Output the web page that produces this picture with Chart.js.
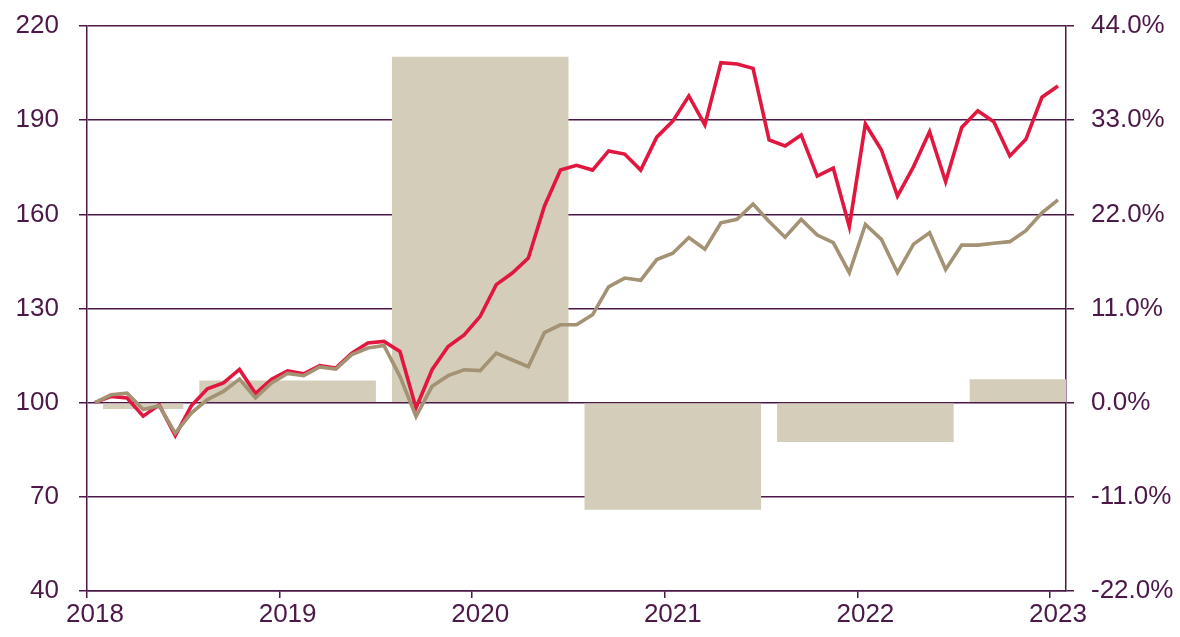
<!DOCTYPE html>
<html>
<head>
<meta charset="utf-8">
<script src="https://cdn.jsdelivr.net/npm/chart.js@4/dist/chart.umd.min.js"></script>
<style>
  html, body { margin: 0; padding: 0; background: #ffffff; }
  #wrap { width: 1180px; height: 637px; position: relative; }
</style>
</head>
<body>
<div id="wrap"><canvas id="c"></canvas></div>
<script>
// ---- data ----
const years = ['2018', '2019', '2020', '2021', '2022', '2023'];
const monthCount = 61; // Jan 2018 .. Jan 2023
const months = [];
for (const y of years) {
  for (let m = 1; m <= 12 && months.length < monthCount; m++) {
    months.push(y + '-' + String(m).padStart(2, '0'));
  }
}

// index series (monthly)
const fundIndex = [100.0, 102.0, 101.5, 95.7, 99.3, 89.5, 99.0, 104.4, 106.3, 110.6, 102.9, 107.5,
  110.1, 109.2, 111.8, 111.0, 115.8, 119.0, 119.5, 116.3, 98.3, 110.5, 117.9, 121.6,
  127.5, 137.6, 141.3, 146.1, 162.6, 174.1, 175.6, 174.1, 180.2, 179.2, 174.1, 184.6,
  189.7, 197.7, 188.5, 208.3, 207.9, 206.5, 183.7, 181.8, 185.3, 172.2, 174.7, 156.1,
  188.8, 180.5, 165.8, 175.2, 186.3, 170.4, 187.7, 193.0, 189.5, 178.6, 183.9, 197.3,
  200.9];
const benchIndex = [100.0, 102.5, 103.0, 97.8, 99.0, 90.3, 96.7, 101.0, 103.6, 107.5, 101.5, 106.3,
  109.3, 108.6, 111.4, 110.7, 115.3, 117.4, 118.2, 108.4, 95.6, 105.2, 108.6, 110.5,
  110.2, 115.8, 113.6, 111.5, 122.3, 124.8, 124.8, 128.0, 136.9, 139.7, 139.0, 145.6,
  147.6, 152.6, 148.9, 157.3, 158.4, 163.3, 157.7, 152.7, 158.4, 153.4, 151.0, 141.4,
  156.8, 152.0, 141.4, 150.5, 154.1, 142.4, 150.2, 150.2, 150.8, 151.3, 154.8, 160.5,
  164.6];

// period returns (%): first month index (0 = Jan 2018) and length in months
const periodStart = [1, 7, 19, 31, 43, 55];
const periodLength = [5, 11, 11, 11, 11, 11];
const periodReturn = [-0.75, 2.6, 40.4, -12.5, -4.6, 2.75];

// y-axis ticks
const leftTicks = { min: 40, max: 220, step: 30 };
const rightTicks = { min: -22, max: 44, step: 11 };

// ---- build ----
const AXIS = '#4B1848';
const TEXT = '#4B1848';
const FONT = { family: "'Liberation Sans', Arial, sans-serif", size: 26 };
const yearMonths = 12;

function barPoint(i) {
  return { x: periodStart[i] + periodLength[i] / 2, y: periodReturn[i] };
}
const firstBar = [barPoint(0)];
const fullBars = periodStart.slice(1).map((_, k) => barPoint(k + 1));

function barAxis() {
  return {
    type: 'linear', display: true, position: 'bottom', offset: false,
    min: 0, max: monthCount,
    ticks: { display: false, stepSize: yearMonths, includeBounds: false },
    grid: { display: false, drawTicks: false, offset: false },
    border: { display: false }
  };
}

function noPad(s) { s.paddingTop = 0; s.paddingBottom = 0; }

new Chart(document.getElementById('c'), {
  type: 'line',
  data: {
    labels: months,
    datasets: [
      {
        label: 'Benchmark', data: benchIndex, xAxisID: 'x', yAxisID: 'y',
        borderColor: '#A39273', borderWidth: 3.6, pointRadius: 0, tension: 0, order: 0
      },
      {
        label: 'Fund', data: fundIndex, xAxisID: 'x', yAxisID: 'y',
        borderColor: '#E2173F', borderWidth: 3.6, pointRadius: 0, tension: 0, order: 1
      },
      {
        type: 'bar', label: 'Relative return', data: fullBars, xAxisID: 'xBar', yAxisID: 'y2',
        backgroundColor: '#D4CDB9', borderWidth: 0, grouped: false,
        categoryPercentage: 1, barPercentage: periodLength[1] / yearMonths, order: 2
      },
      {
        type: 'bar', label: 'Relative return (partial)', data: firstBar, xAxisID: 'xBar1', yAxisID: 'y2',
        backgroundColor: '#D4CDB9', borderWidth: 0, grouped: false,
        categoryPercentage: 1, barPercentage: periodLength[0] / yearMonths, order: 2
      }
    ]
  },
  options: {
    responsive: true,
    maintainAspectRatio: false,
    animation: false,
    events: [],
    layout: { padding: { top: 26, left: 0, right: 0, bottom: 0 } },
    plugins: { legend: { display: false }, tooltip: { enabled: false } },
    scales: {
      x: {
        type: 'category', position: 'bottom', offset: true,
        grid: {
          offset: true, drawOnChartArea: false, drawTicks: true, tickLength: 7, lineWidth: 1.5,
          color: ctx => (ctx.tick && ctx.index % yearMonths === 0) ? AXIS : 'rgba(0,0,0,0)'
        },
        border: { display: true, color: AXIS, width: 1.5 },
        ticks: {
          autoSkip: false, maxRotation: 0, minRotation: 0, padding: 1,
          color: TEXT, font: FONT,
          callback: (v, i) => (i % yearMonths === 0) ? months[i].slice(0, 4) : ''
        },
        afterFit: s => { s.height = 46; }
      },
      xBar: barAxis(),
      xBar1: barAxis(),
      y: {
        position: 'left', min: leftTicks.min, max: leftTicks.max,
        ticks: { stepSize: leftTicks.step, padding: 20, color: TEXT, font: FONT },
        grid: { color: AXIS, lineWidth: 1.5, drawTicks: true, tickLength: 8 },
        border: { display: true, color: AXIS, width: 1.5 },
        afterFit: s => { s.width = 87; noPad(s); }
      },
      y2: {
        position: 'right', min: rightTicks.min, max: rightTicks.max,
        ticks: {
          stepSize: rightTicks.step, padding: 17, color: TEXT, font: FONT,
          callback: v => v.toFixed(1) + '%'
        },
        grid: { drawOnChartArea: false, color: AXIS, lineWidth: 1.5, drawTicks: true, tickLength: 8 },
        border: { display: true, color: AXIS, width: 1.5 },
        afterFit: s => { s.width = 114; noPad(s); }
      }
    }
  }
});
</script>
</body>
</html>
